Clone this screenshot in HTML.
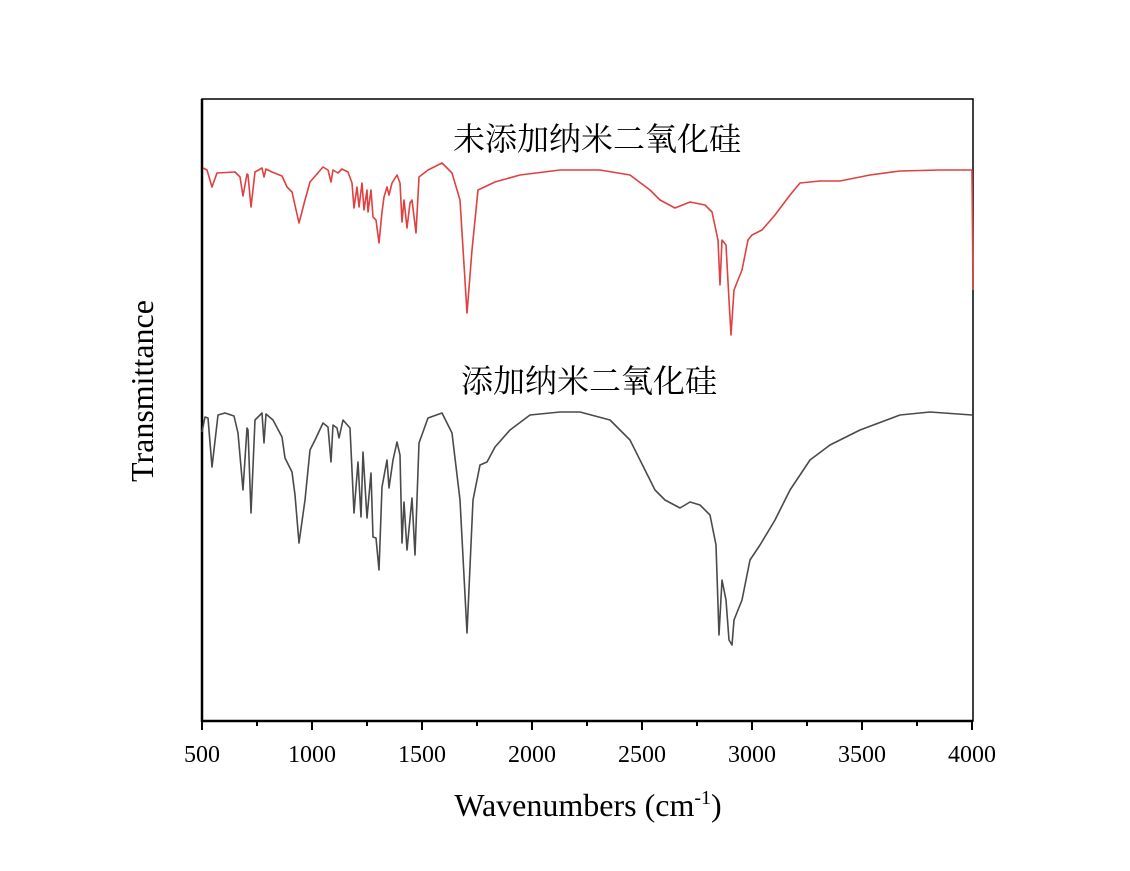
<!DOCTYPE html><html><head><meta charset="utf-8"><style>body{margin:0;background:#fff}</style></head><body>
<svg width="1130" height="866" xmlns="http://www.w3.org/2000/svg" font-family="Liberation Serif, Noto Serif CJK SC, serif">
<rect x="202" y="99" width="771" height="622" fill="none" stroke="#000" stroke-width="1.5"/>
<line x1="202" y1="99" x2="202" y2="722" stroke="#000" stroke-width="2.5"/>
<line x1="201" y1="721" x2="973" y2="721" stroke="#000" stroke-width="2.5"/>
<g stroke="#000" stroke-width="2">
<line x1="202" y1="721" x2="202" y2="730"/><line x1="312" y1="721" x2="312" y2="730"/><line x1="422" y1="721" x2="422" y2="730"/><line x1="532" y1="721" x2="532" y2="730"/><line x1="642" y1="721" x2="642" y2="730"/><line x1="752" y1="721" x2="752" y2="730"/><line x1="862" y1="721" x2="862" y2="730"/><line x1="972" y1="721" x2="972" y2="730"/>
<line x1="257" y1="721" x2="257" y2="726"/><line x1="367" y1="721" x2="367" y2="726"/><line x1="477" y1="721" x2="477" y2="726"/><line x1="587" y1="721" x2="587" y2="726"/><line x1="697" y1="721" x2="697" y2="726"/><line x1="807" y1="721" x2="807" y2="726"/><line x1="917" y1="721" x2="917" y2="726"/>
</g>
<g font-size="24" text-anchor="middle"><text x="202" y="762">500</text><text x="312" y="762">1000</text><text x="422" y="762">1500</text><text x="532" y="762">2000</text><text x="642" y="762">2500</text><text x="752" y="762">3000</text><text x="862" y="762">3500</text><text x="972" y="762">4000</text></g>
<text x="588" y="816" font-size="32" text-anchor="middle">Wavenumbers (cm<tspan dy="-12" font-size="20">-1</tspan><tspan dy="12">)</tspan></text>
<text transform="translate(153,391) rotate(-90)" font-size="32" text-anchor="middle">Transmittance</text>
<text x="597" y="150" font-size="32" text-anchor="middle">未添加纳米二氧化硅</text>
<text x="589" y="392" font-size="32" text-anchor="middle">添加纳米二氧化硅</text>
<polyline fill="none" stroke="#e04040" stroke-width="1.6" stroke-linejoin="round" points="203,168 207,170 212,187 217,173 235,172 240,177 243,196 247,174 248,175 251,207 255,172 262,168 264,177 266,169 272,172 282,176 287,187 292,192 299,223 305,200 310,182 323,167 328,170 331,182 333,170 338,173 342,169 348,172 352,183 354,208 357,187 359,207 362,183 364,210 367,190 368,212 371,190 373,217 376,220 379,243 382,212 384,197 387,187 389,195 392,183 397,175 400,183 402,222 404,200 407,228 410,203 412,200 416,233 419,177 428,170 442,163 452,173 460,200 467,313 472,250 478,190 495,182 520,175 560,170 600,170 630,175 650,190 660,200 675,208 690,202 705,205 712,212 718,240 720,285 722,240 726,245 729,300 731,335 734,290 738,280 742,270 748,240 752,235 762,230 775,215 790,195 800,183 820,181 840,181 870,175 900,171 940,170 972,170 973,290"/>
<polyline fill="none" stroke="#4a4a4a" stroke-width="1.6" stroke-linejoin="round" points="202,432 205,417 208,418 212,467 218,415 225,413 234,416 238,433 243,490 247,428 248,430 251,513 255,420 262,413 264,443 266,414 273,420 282,437 285,458 292,472 295,495 299,543 305,500 310,450 315,440 323,423 328,427 331,462 333,425 337,428 339,438 343,420 350,428 354,513 358,462 361,517 363,452 367,518 371,473 373,537 376,538 379,570 382,487 387,460 389,488 393,460 397,442 400,455 402,543 404,502 407,550 412,498 415,555 419,443 428,418 442,413 452,433 460,500 467,633 473,500 480,465 487,462 495,447 510,430 530,415 560,412 580,412 610,420 630,440 645,470 655,490 665,500 680,508 690,502 700,505 710,515 716,545 719,635 722,580 726,600 729,640 732,645 734,620 738,610 742,600 750,560 760,545 775,520 790,490 810,460 830,445 860,430 900,415 930,412 972,415"/>
</svg></body></html>
